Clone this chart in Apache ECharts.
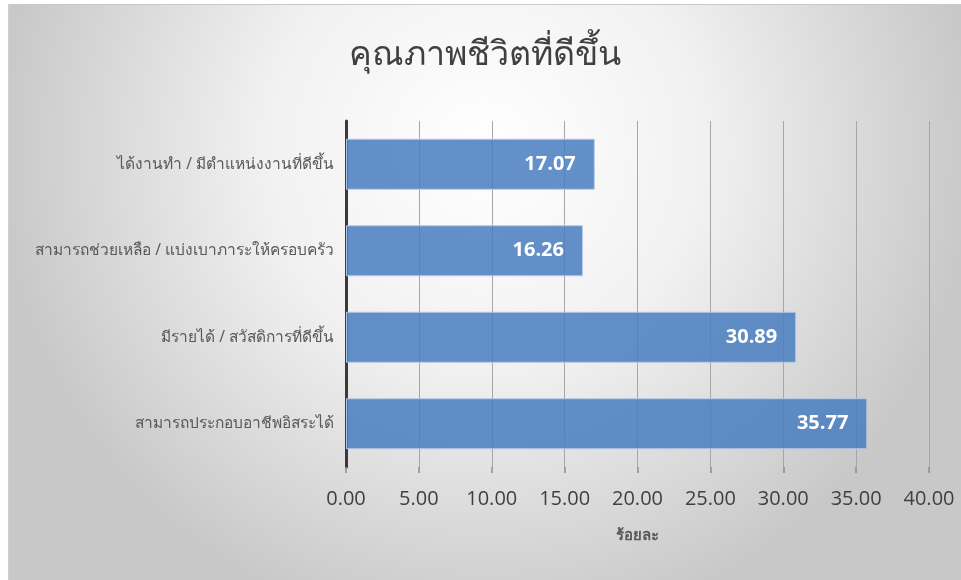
<!DOCTYPE html>
<html>
<head>
<meta charset="utf-8">
<script src="https://cdn.jsdelivr.net/npm/echarts@6/dist/echarts.min.js"></script>
<style>
html,body{margin:0;padding:0;background:#fff;width:961px;height:580px;overflow:hidden;}
#frame{position:absolute;left:8px;top:4px;width:953px;height:576px;border-top:1px solid #c8c8c8;border-left:1px solid #d0d0d0;box-sizing:border-box;}
#chart{width:100%;height:100%;}
</style>
</head>
<body>
<div id="frame"><div id="chart"></div></div>
<script>
const titleText = 'คุณภาพชีวิตที่ดีขึ้น';
const categories = [
  'ได้งานทำ / มีตำแหน่งงานที่ดีขึ้น',
  'สามารถช่วยเหลือ / แบ่งเบาภาระให้ครอบครัว',
  'มีรายได้ / สวัสดิการที่ดีขึ้น',
  'สามารถประกอบอาชีพอิสระได้'
];
const values = [17.07, 16.26, 30.89, 35.77];
const axisName = 'ร้อยละ';
const xMin = 0, xMax = 40, xStep = 5;

const chart = echarts.init(document.getElementById('chart'), null, {renderer:'canvas'});
chart.setOption({
  animation: false,
  backgroundColor: {
    type: 'radial', x: 0.5, y: 0.25, r: 0.85,
    colorStops: [{offset:0, color:'#ffffff'},{offset:0.45, color:'#f1f1f1'},{offset:1, color:'#c8c8c8'}]
  },
  title: {
    text: titleText, left: 'center', top: 28,
    textStyle: {fontSize: 34, fontWeight: 'normal', color: '#404040', fontFamily: 'Noto Sans, DejaVu Sans, sans-serif'}
  },
  grid: {left: 337, right: 32, top: 116, bottom: 113, containLabel: false},
  xAxis: {
    type: 'value', min: xMin, max: xMax, interval: xStep,
    name: axisName, nameLocation: 'middle', nameGap: 61,
    nameTextStyle: {fontSize: 15, fontWeight: 'bold', color: '#595959', fontFamily: 'Noto Sans, sans-serif'},
    axisLine: {show: false},
    axisTick: {show: true, length: 6, lineStyle: {color: '#8c8c8c', width: 1.5}},
    splitLine: {show: true, lineStyle: {color: '#a6a6a6', width: 1}},
    axisLabel: {fontSize: 20, color: '#404040', margin: 22, fontFamily: 'Open Sans, sans-serif',
      formatter: v => v.toFixed(2)}
  },
  yAxis: {
    type: 'category', data: categories, inverse: true,
    axisLine: {show: true, lineStyle: {color: '#3a3a3a', width: 3}},
    axisTick: {show: false},
    axisLabel: {fontSize: 15.5, color: '#595959', margin: 12, fontFamily: 'Noto Sans, sans-serif'}
  },
  series: [{
    type: 'bar', data: values, barCategoryGap: '41%',
    itemStyle: {color: 'rgba(72,124,190,0.85)', borderColor: '#b5cbe6', borderWidth: 1},
    label: {show: true, position: 'insideRight', distance: 19, color: '#ffffff',
      fontSize: 20, fontWeight: 'bold', fontFamily: 'Open Sans, sans-serif',
      formatter: p => p.value.toFixed(2)}
  }]
});
</script>
</body>
</html>
